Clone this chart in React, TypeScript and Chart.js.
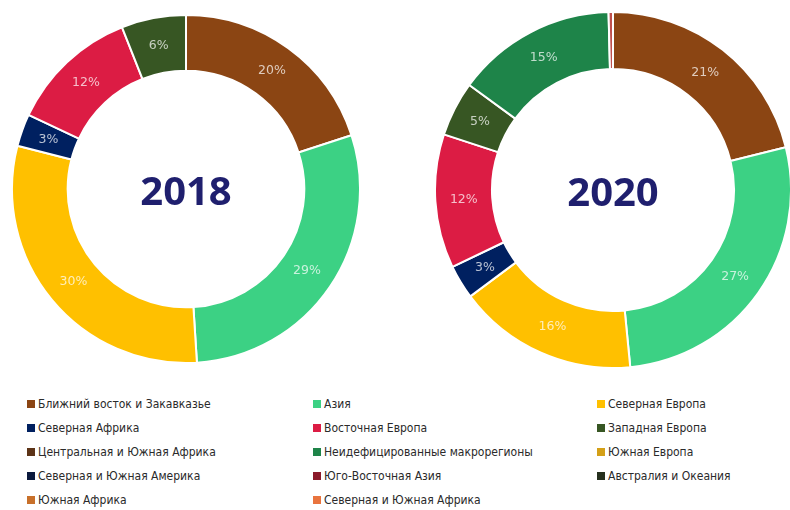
import React, { useEffect, useRef } from "react";
import { Chart, registerables } from "chart.js";

Chart.register(...registerables);

// ---- data ----
const regions2018 = [
  "Ближний восток и Закавказье",
  "Азия",
  "Северная Европа",
  "Северная Африка",
  "Восточная Европа",
  "Западная Европа",
];
const values2018 = [20, 29, 30, 3, 12, 6];
const colors2018 = ["#8B4513", "#3CD184", "#FFC000", "#002060", "#DC1C44", "#375623"];

const regions2020 = [
  "Ближний восток и Закавказье",
  "Азия",
  "Северная Европа",
  "Северная Африка",
  "Восточная Европа",
  "Западная Европа",
  "Неидефицированные макрорегионы",
  "Юго-Восточная Азия",
];
const values2020 = [21.2, 27.4, 16.4, 3.1, 12.2, 5.0, 14.6, 0.4];
const colors2020 = ["#8B4513", "#3CD184", "#FFC000", "#002060", "#DC1C44", "#375623", "#1E8449", "#C0504D"];

const legendLabels = [
  "Ближний восток и Закавказье",
  "Азия",
  "Северная Европа",
  "Северная Африка",
  "Восточная Европа",
  "Западная Европа",
  "Центральная и Южная Африка",
  "Неидефицированные макрорегионы",
  "Южная Европа",
  "Северная и Южная Америка",
  "Юго-Восточная Азия",
  "Австралия и Океания",
  "Южная Африка",
  "Северная и Южная Африка",
];
const legendColors = [
  "#8B4513",
  "#3CD184",
  "#FFC000",
  "#002060",
  "#DC1C44",
  "#375623",
  "#5C3317",
  "#1E8449",
  "#D4A017",
  "#0B1A3D",
  "#8B1A2A",
  "#26301E",
  "#C8702A",
  "#E9743E",
];

const sliceLabelPlugin = {
  id: "sliceLabels",
  afterDatasetsDraw(chart: any) {
    const ctx = chart.ctx;
    const meta = chart.getDatasetMeta(0);
    const data = chart.data.datasets[0].data as number[];
    ctx.save();
    ctx.font = "12.5px 'DejaVu Sans', Verdana, sans-serif";
    ctx.fillStyle = "rgba(255,255,255,0.72)";
    ctx.textAlign = "center";
    ctx.textBaseline = "middle";
    meta.data.forEach((arc: any, i: number) => {
      if (data[i] < 2) return;
      const p = arc.tooltipPosition();
      ctx.fillText(Math.round(data[i]) + "%", p.x, p.y);
    });
    ctx.restore();
  },
};

const centerTextPlugin = {
  id: "centerText",
  afterDraw(chart: any) {
    const meta = chart.getDatasetMeta(0);
    const arc = meta.data[0] as any;
    if (!arc) return;
    const ctx = chart.ctx;
    ctx.save();
    ctx.font = "bold 40px 'Open Sans', 'DejaVu Sans', sans-serif";
    ctx.fillStyle = "#1F1F6E";
    ctx.textAlign = "center";
    ctx.textBaseline = "middle";
    ctx.fillText(chart.options.plugins.centerText.text, arc.x, arc.y + 5);
    ctx.restore();
  },
};

function Donut(props: {
  labels: string[];
  values: number[];
  colors: string[];
  year: string;
  left: number;
  top: number;
  size: number;
}) {
  const ref = useRef<HTMLCanvasElement | null>(null);
  useEffect(() => {
    if (!ref.current) return;
    const chart = new Chart(ref.current, {
      type: "doughnut",
      data: {
        labels: props.labels,
        datasets: [
          {
            data: props.values,
            backgroundColor: props.colors,
            borderColor: "#ffffff",
            borderWidth: 2,
          },
        ],
      },
      options: {
        animation: false,
        responsive: false,
        maintainAspectRatio: false,
        cutout: "68%",
        layout: { padding: 0 },
        plugins: {
          legend: { display: false },
          tooltip: { enabled: false },
          centerText: { text: props.year },
        } as any,
      },
      plugins: [sliceLabelPlugin, centerTextPlugin],
    });
    return () => chart.destroy();
  }, []);
  return (
    <canvas
      ref={ref}
      width={props.size}
      height={props.size}
      style={{ position: "absolute", left: props.left, top: props.top, width: props.size, height: props.size }}
    />
  );
}

export default function App() {
  const colX = [27, 313, 597];
  const rowY = [404, 428, 452, 476, 500];
  return (
    <div
      style={{
        position: "fixed",
        left: 0,
        top: 0,
        width: 790,
        height: 510,
        background: "#ffffff",
        overflow: "hidden",
      }}
    >
      <Donut labels={regions2018} values={values2018} colors={colors2018} year="2018" left={11} top={14} size={350} />
      <Donut labels={regions2020} values={values2020} colors={colors2020} year="2020" left={434} top={11} size={358} />
      {legendLabels.map((name, i) => {
        const x = colX[i % 3];
        const y = rowY[Math.floor(i / 3)];
        return (
          <div
            key={name}
            style={{
              position: "absolute",
              left: x,
              top: y - 8,
              height: 16,
              display: "flex",
              alignItems: "center",
              whiteSpace: "nowrap",
              font: "12px 'DejaVu Sans Condensed', 'Liberation Sans Narrow', sans-serif",
              color: "#2a2a2a",
            }}
          >
            <span
              style={{
                display: "inline-block",
                width: 8,
                height: 8,
                background: legendColors[i],
                marginRight: 3,
              }}
            />
            {name}
          </div>
        );
      })}
    </div>
  );
}
